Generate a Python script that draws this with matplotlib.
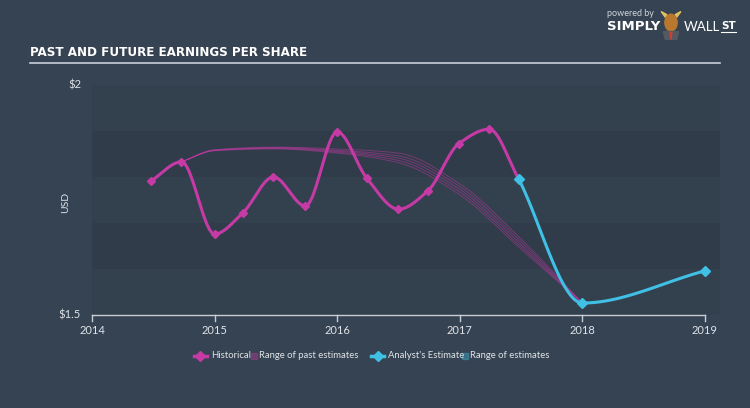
import numpy as np
import matplotlib
matplotlib.use("Agg")
import matplotlib.pyplot as plt
from matplotlib.lines import Line2D
from matplotlib import font_manager

# historical EPS (year fraction, USD)
hist_t = [2014.48, 2014.73, 2015.0, 2015.23, 2015.48, 2015.74, 2016.0,
          2016.24, 2016.50, 2016.74, 2016.99, 2017.24, 2017.48]
hist_v = [1.791, 1.833, 1.676, 1.722, 1.800, 1.737, 1.898,
          1.798, 1.730, 1.770, 1.872, 1.904, 1.796]

# analyst estimate
est_t = [2017.48, 2018.0, 2019.0]
est_v = [1.796, 1.526, 1.596]

# range of past estimates (several revisions)
past_t = [2014.73, 2015.0, 2015.5, 2016.0, 2016.5, 2017.0, 2017.5, 2018.0]
past_runs = [
    [1.833, 1.859, 1.865, 1.861, 1.852, 1.785, 1.665, 1.526],
    [1.833, 1.859, 1.864, 1.858, 1.846, 1.779, 1.659, 1.526],
    [1.833, 1.858, 1.863, 1.856, 1.841, 1.773, 1.653, 1.526],
    [1.833, 1.858, 1.862, 1.854, 1.836, 1.767, 1.648, 1.526],
    [1.833, 1.857, 1.861, 1.852, 1.831, 1.761, 1.643, 1.526],
]

years = [2014, 2015, 2016, 2017, 2018, 2019]

BG = "#364352"
PINK = "#c63aa6"
BLUE = "#40c0e4"
TXT = "#dfe3e8"
LEG_FONT = "Lato"


def monotone(x, y, n=40):
    # monotone cubic (Fritsch-Carlson) for drawing smooth curves
    x = np.asarray(x, float); y = np.asarray(y, float)
    h = np.diff(x); d = np.diff(y) / h
    m = np.zeros_like(y)
    m[0], m[-1] = d[0], d[-1]
    for i in range(1, len(y) - 1):
        if d[i - 1] * d[i] <= 0:
            m[i] = 0
        else:
            w1 = 2 * h[i] + h[i - 1]; w2 = h[i] + 2 * h[i - 1]
            m[i] = (w1 + w2) / (w1 / d[i - 1] + w2 / d[i])
    xs, ys = [], []
    for i in range(len(h)):
        t = np.linspace(0, 1, n, endpoint=False)
        h00 = 2*t**3 - 3*t**2 + 1; h10 = t**3 - 2*t**2 + t
        h01 = -2*t**3 + 3*t**2; h11 = t**3 - t**2
        xs.append(x[i] + t * h[i])
        ys.append(h00*y[i] + h10*h[i]*m[i] + h01*y[i+1] + h11*h[i]*m[i+1])
    xs.append([x[-1]]); ys.append([y[-1]])
    return np.concatenate(xs), np.concatenate(ys)


def narrow_font():
    # look for a condensed / narrow bold face
    best = None
    for f in font_manager.fontManager.ttflist:
        nm = (f.name + " " + f.fname).lower()
        if "condensed" in nm or "narrow" in nm:
            score = 2 if "bold" in nm else 1
            if best is None or score > best[0]:
                best = (score, f.fname)
    return best[1] if best else None


fig = plt.figure(figsize=(7.5, 4.08), dpi=100, facecolor=BG)
W, H = 750, 408
ax = fig.add_axes([92/W, 1 - 315/H, (720-92)/W, (315-85)/H])
ax.set_facecolor(BG)
ax.set_xlim(2014, 2019 + 15/122.6)
ax.set_ylim(1.5, 2.0)

# horizontal bands
band_cols = ["#33404e", "#303c4a", "#33404e", "#303c4a", "#33404e"]
for i, c in enumerate(band_cols):
    ax.axhspan(2.0 - i*0.1, 2.0 - (i+1)*0.1, color=c, lw=0, zorder=0)

for run in past_runs:
    xs, ys = monotone(past_t, run)
    ax.plot(xs, ys, color=PINK, lw=0.7, alpha=0.45, zorder=2)

xs, ys = monotone(hist_t, hist_v)
ax.plot(xs, ys, color=PINK, lw=2.2, zorder=3, solid_capstyle="round")
ax.plot(hist_t, hist_v, "D", color=PINK, ms=4.5, zorder=4)

xs, ys = monotone(est_t, est_v)
ax.plot(xs, ys, color=BLUE, lw=2.2, zorder=3, solid_capstyle="round")
ax.plot(est_t, est_v, "D", color=BLUE, ms=5, zorder=4)

for s in ax.spines.values():
    s.set_visible(False)
ax.set_xticks([])
ax.set_yticks([])

# bottom axis line with ticks
ax.plot([2014, 2019], [1.5, 1.5], color="#c8ced6", lw=1, clip_on=False, zorder=5)
for yr in years:
    ax.plot([yr, yr], [1.5, 1.5 - 0.014], color="#c8ced6", lw=1, clip_on=False, zorder=5)
    ax.text(yr, 1.5 - 0.022, str(yr), color=TXT, fontsize=8, ha="center", va="top",
            family=LEG_FONT)

# y labels
fig.text(81/W, 1 - 85/H, "$2", color=TXT, fontsize=8, ha="right", va="center", family=LEG_FONT)
fig.text(81/W, 1 - 315/H, "$1.5", color=TXT, fontsize=8, ha="right", va="center", family=LEG_FONT)
fig.text(66/W, 1 - 202/H, "USD", color=TXT, fontsize=7.5, rotation=90, ha="center",
         va="center", family=LEG_FONT)

# title: condensed face if there is one, else Roboto bold
tf = narrow_font()
if tf:
    tkw = dict(fontproperties=font_manager.FontProperties(fname=tf, size=9.5))
else:
    tkw = dict(family="Roboto", fontweight="bold", fontsize=8.5)
fig.text(30/W, 1 - 52/H, "PAST AND FUTURE EARNINGS PER SHARE", color="white",
         ha="left", va="center", **tkw)
fig.add_artist(Line2D([30/W, 720/W], [1 - 63/H, 1 - 63/H], color="#c8d0da", lw=1.2))

# logo
fig.text(607/W, 1 - 14/H, "powered by", color="#d0d5dc", fontsize=6.5, ha="left",
         va="center", family=LEG_FONT)
fig.text(607/W, 1 - 27/H, "SIMPLY", color="white", fontsize=9.5, fontweight="bold",
         ha="left", va="center")
fig.text(684/W, 1 - 27/H, "WALL", color="white", fontsize=9.5, ha="left", va="center",
         family=LEG_FONT)
fig.text(721/W, 1 - 26/H, "ST", color="white", fontsize=7.5, fontweight="bold",
         ha="left", va="center")
fig.add_artist(Line2D([721/W, 736/W], [1 - 32/H, 1 - 32/H], color="white", lw=0.8))
logo = fig.add_axes([660/W, 1 - 40/H, 22/W, 30/H])
logo.set_xlim(0, 1); logo.set_ylim(0, 1); logo.axis("off")
logo.add_patch(plt.Polygon([[0.05, 0.95], [0.25, 0.75], [0.3, 0.85]], color="#e0c060"))
logo.add_patch(plt.Polygon([[0.95, 0.95], [0.75, 0.75], [0.7, 0.85]], color="#e0c060"))
logo.add_patch(plt.Circle((0.5, 0.58), 0.28, color="#b8782e"))
logo.add_patch(plt.Polygon([[0.15, 0.28], [0.85, 0.28], [0.75, 0.0], [0.25, 0.0]], color="#555a62"))
logo.add_patch(plt.Polygon([[0.46, 0.25], [0.54, 0.25], [0.5, 0.02]], color="#d04030"))

# legend
ly = 1 - 356/H
lfs = 6.8
fig.add_artist(Line2D([194/W, 207/W], [ly, ly], color=PINK, lw=2.5))
fig.add_artist(Line2D([200.5/W], [ly], marker="D", color=PINK, ms=5))
fig.text(211/W, ly, "Historical", color=TXT, fontsize=lfs, ha="left", va="center", family=LEG_FONT)
fig.add_artist(plt.Rectangle((251/W, ly - 3/H), 6/W, 6/H, color=PINK, alpha=0.35))
fig.text(259/W, ly, "Range of past estimates", color=TXT, fontsize=lfs, ha="left",
         va="center", family=LEG_FONT)
fig.add_artist(Line2D([371/W, 384/W], [ly, ly], color=BLUE, lw=2.5))
fig.add_artist(Line2D([377.5/W], [ly], marker="D", color=BLUE, ms=5))
fig.text(388/W, ly, "Analyst's Estimate", color=TXT, fontsize=lfs, ha="left", va="center",
         family=LEG_FONT)
fig.add_artist(plt.Rectangle((462/W, ly - 3/H), 6/W, 6/H, color=BLUE, alpha=0.35))
fig.text(470/W, ly, "Range of estimates", color=TXT, fontsize=lfs, ha="left", va="center",
         family=LEG_FONT)

fig.savefig("out.png", dpi=100, facecolor=BG)
